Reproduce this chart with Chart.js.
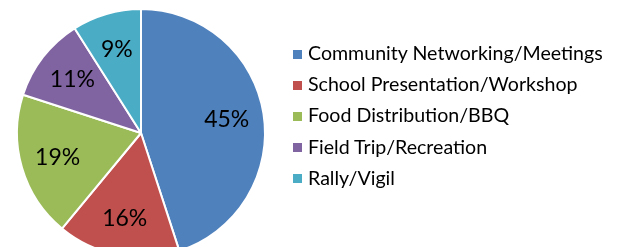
<!DOCTYPE html>
<html>
<head>
    <meta charset="utf-8" />
    <title></title>
    <style>
        html, body { margin: 0; padding: 0; overflow: hidden; background: #fff; }
        #wrap { position: relative; width: 620px; height: 247px; }
        #myChart { position: absolute; left: 0; top: 0; }
        #legend { position: absolute; left: 293px; top: 37px; margin: 0; padding: 0; list-style: none;
                  font-family: Lato, sans-serif; font-size: 19.6px; color: #000; }
        #legend li { height: 31.2px; line-height: 31.2px; white-space: nowrap; }
        #legend span { display: inline-block; width: 9px; height: 9px; margin-right: 6px; vertical-align: middle; position: relative; top: -1px; }
    </style>
</head>
<body>
    <div id="wrap">
        <canvas id="myChart" width="620" height="266"></canvas>
        <ul id="legend"></ul>
    </div>
    <script src="https://cdn.jsdelivr.net/npm/chart.js@4/dist/chart.umd.min.js"></script>
    <script>

        // categories and their share (in %)
        var labels = ['Community Networking/Meetings', 'School Presentation/Workshop', 'Food Distribution/BBQ', 'Field Trip/Recreation', 'Rally/Vigil'];
        var values = [45, 16, 19, 11, 9];
        var colors = ['#4F81BD', '#C0504D', '#9BBB59', '#8064A2', '#4BACC6'];

        // percentage labels drawn inside each slice
        var sliceLabels = {
            id: 'sliceLabels',
            afterDatasetsDraw: function (chart) {
                var ctx = chart.ctx;
                var meta = chart.getDatasetMeta(0);
                ctx.save();
                ctx.font = '23px Lato';
                ctx.fillStyle = '#000';
                ctx.textAlign = 'center';
                ctx.textBaseline = 'middle';
                meta.data.forEach(function (arc, i) {
                    var p = arc.getProps(['x', 'y', 'startAngle', 'endAngle', 'outerRadius']);
                    var mid = (p.startAngle + p.endAngle) / 2;
                    var r = p.outerRadius * 0.7;
                    ctx.fillText(values[i] + '%', p.x + Math.cos(mid) * r, p.y + Math.sin(mid) * r);
                });
                ctx.restore();
            }
        };

        var context = document.getElementById('myChart').getContext('2d');
        var chart = new Chart(context, {
            type: 'pie',
            data: {
                labels: labels,
                datasets: [{
                    data: values,
                    backgroundColor: colors,
                    borderColor: '#fff',
                    borderWidth: 2
                }]
            },
            options: {
                responsive: false,
                animation: false,
                layout: { padding: { left: 0, top: 8, bottom: 8, right: 338 } },
                plugins: {
                    tooltip: { enabled: false },
                    legend: { display: false }
                }
            },
            plugins: [sliceLabels]
        });

        // html legend built from chart.js legend items
        var items = Chart.overrides.pie.plugins.legend.labels.generateLabels(chart);
        var ul = document.getElementById('legend');
        items.forEach(function (item) {
            var li = document.createElement('li');
            var box = document.createElement('span');
            box.style.background = item.fillStyle;
            li.appendChild(box);
            li.appendChild(document.createTextNode(item.text));
            ul.appendChild(li);
        });

    </script>
</body>
</html>
